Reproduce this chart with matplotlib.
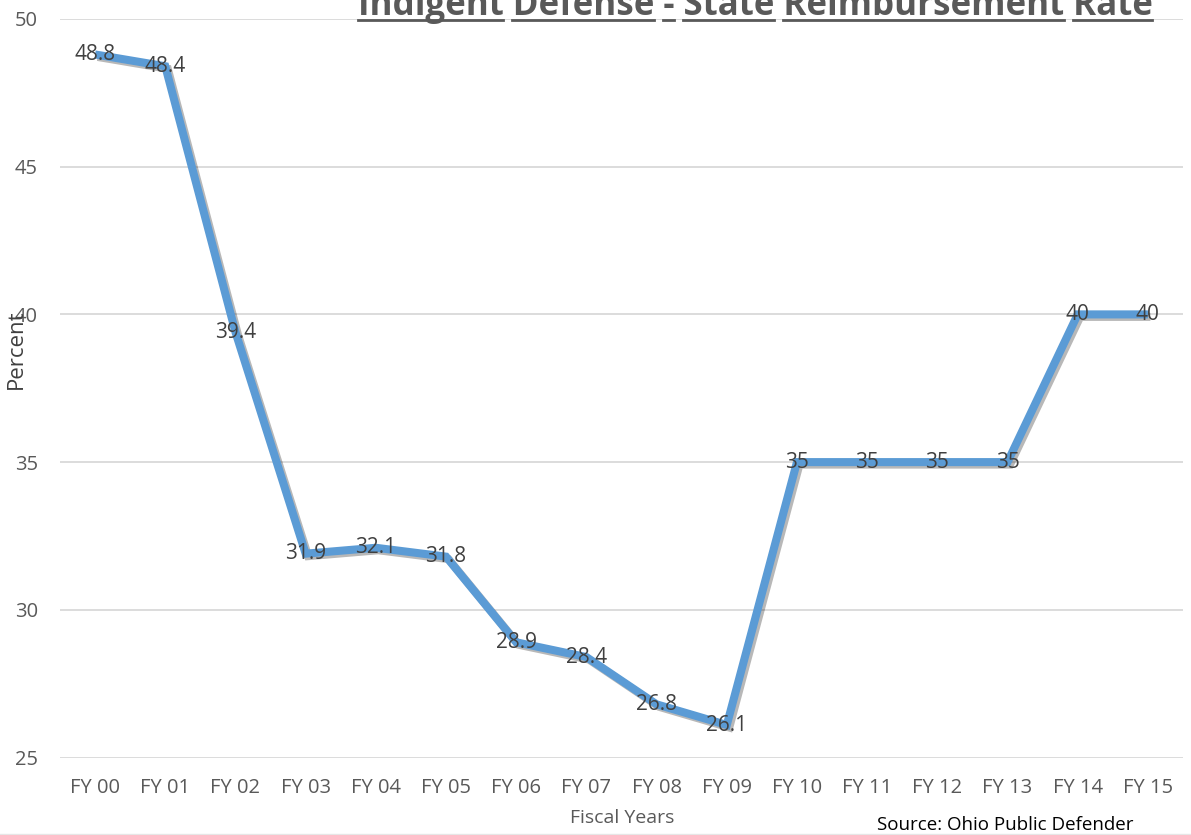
import matplotlib
matplotlib.use("Agg")
import matplotlib.pyplot as plt
import matplotlib.patheffects as pe
from matplotlib.lines import Line2D

categories = ["FY 00", "FY 01", "FY 02", "FY 03", "FY 04", "FY 05", "FY 06", "FY 07",
              "FY 08", "FY 09", "FY 10", "FY 11", "FY 12", "FY 13", "FY 14", "FY 15"]
values = [48.8, 48.4, 39.4, 31.9, 32.1, 31.8, 28.9, 28.4, 26.8, 26.1, 35, 35, 35, 35, 40, 40]
labels = ["48.8", "48.4", "39.4", "31.9", "32.1", "31.8", "28.9", "28.4", "26.8", "26.1",
          "35", "35", "35", "35", "40", "40"]
yticks = [25, 30, 35, 40, 45, 50]
title = "Indigent Defense - State Reimbursement Rate"

plt.rcParams['font.family'] = ['Open Sans', 'DejaVu Sans']
W, H = 1191, 835
fig = plt.figure(figsize=(W / 100, H / 100), dpi=100)
ax = fig.add_axes([60 / W, 1 - 757.5 / H, (1183 - 60) / W, (757.5 - 19) / H])

x = list(range(len(categories)))
ax.set_xlim(-0.5, len(categories) - 0.5)
ax.set_ylim(25, 50)
ax.set_yticks(yticks)
ax.set_xticks(x)
ax.set_xticklabels(categories)
for s in ax.spines.values():
    s.set_visible(False)
ax.tick_params(length=0, labelsize=14.5, colors="#595959")
ax.tick_params(axis='x', pad=15)
ax.tick_params(axis='y', pad=16)
ax.grid(axis='y', color="#D9D9D9", linewidth=1.3)
ax.set_axisbelow(True)

ax.plot(x, values, color="#5B9BD5", linewidth=5.8, solid_joinstyle='miter',
        solid_capstyle='butt', zorder=3,
        path_effects=[pe.SimpleLineShadow(offset=(1.8, -1.8), shadow_color='black', alpha=0.28),
                      pe.Normal()])
for xi, v, lab in zip(x, values, labels):
    ax.text(xi, v, lab, ha='center', va='center', fontsize=15, color="#404040", zorder=5)

ax.set_ylabel("Percent", fontsize=16, color="#404040", labelpad=0)
ax.yaxis.set_label_coords((27 - 60) / 1123, 0.553)

fig.text(622 / W, 1 - 818 / H, "Fiscal Years", ha='center', va='center', fontsize=14,
         color="#595959")
fig.text(1005 / W, 1 - 825 / H, "Source: Ohio Public Defender", ha='center', va='center',
         fontsize=13.5, color="#000000")

# title with per-word underline
renderer = fig.canvas.get_renderer()
fs0 = 20
t = fig.text(0, 0, title, fontsize=fs0, fontweight='bold')
w0 = t.get_window_extent(renderer).width
t.remove()
target_w = 795
fs = fs0 * target_w / w0
x_left = 755 - target_w / 2
base_y = 15
tt = fig.text(x_left / W, 1 - base_y / H, title, fontsize=fs, fontweight='bold',
              color="#595959", ha='left', va='baseline')
words = title.split(" ")
pos = 0
for wd in words:
    idx = title.index(wd, pos)
    pre = title[:idx]
    if pre:
        tp = fig.text(0, 0, pre, fontsize=fs, fontweight='bold')
        pw = tp.get_window_extent(renderer).width
        tp.remove()
    else:
        pw = 0
    tw_ = fig.text(0, 0, pre + wd, fontsize=fs, fontweight='bold')
    ww = tw_.get_window_extent(renderer).width
    tw_.remove()
    pos = idx + len(wd)
    x0 = x_left + pw
    x1 = x_left + ww
    fig.add_artist(Line2D([x0 / W, x1 / W], [1 - 19.5 / H, 1 - 19.5 / H],
                          transform=fig.transFigure, color="#595959", linewidth=2))

fig.add_artist(Line2D([0, 1], [1 - 833.5 / H, 1 - 833.5 / H], transform=fig.transFigure,
                      color="#E6E6E6", linewidth=1))

fig.savefig("out.png", dpi=100)
